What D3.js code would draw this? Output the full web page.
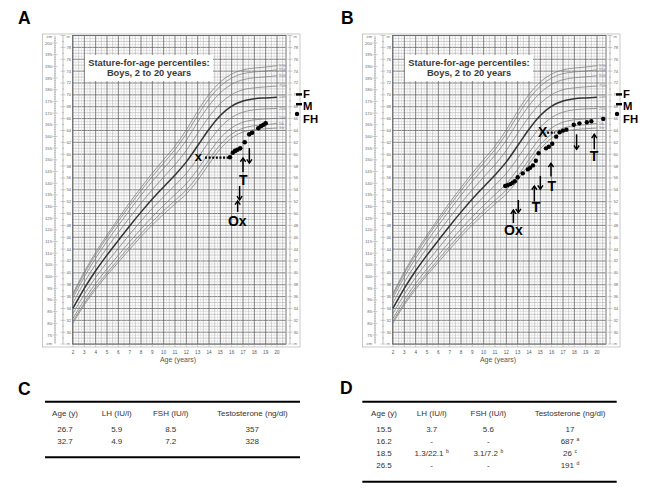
<!DOCTYPE html>
<html><head><meta charset="utf-8">
<script src="https://cdn.jsdelivr.net/npm/d3@7"></script>
<style>
body{margin:0;background:#fff;}
text{font-family:Arial,"Liberation Sans",Helvetica,sans-serif;}
</style></head>
<body><svg id="fig" width="649" height="502"></svg>
<script>
// ---------- DATA ----------
const ages = [2,3,4,5,6,7,8,9,10,11,12,13,14,15,16,17,18,19,20];
const pctNames = ["3rd","5th","10th","25th","50th","75th","90th","95th","97th"];
const p3  = [80.1,87.9,94.6,100.6,106.1,111.7,117.1,122.1,126.7,131.1,135.4,141.2,148.2,154.7,159.3,161.9,162.9,163.3,163.6];
const p5  = [80.9,88.7,95.6,101.6,107.3,113.0,118.4,123.5,128.2,132.6,137.1,143.0,150.1,156.5,161.0,163.5,164.6,165.0,165.6];
const p10 = [82.1,90.1,97.1,103.3,109.1,114.9,120.4,125.6,130.5,135.1,139.8,145.9,153.0,159.3,163.7,166.1,167.1,167.5,167.8];
const p25 = [84.2,92.4,99.7,106.1,112.1,118.1,123.8,129.2,134.2,139.1,144.2,150.7,157.8,163.9,168.1,170.4,171.4,171.8,172.0];
const p50 = [86.5,95.0,102.5,109.2,115.5,121.7,127.6,133.2,138.4,143.5,149.1,156.0,163.1,169.0,173.0,175.2,176.1,176.5,176.8];
const p75 = [88.8,97.6,105.3,112.3,118.9,125.3,131.4,137.2,142.6,147.9,154.0,161.3,168.4,174.1,177.9,180.0,180.8,181.2,181.6];
const p90 = [90.9,99.9,107.9,115.1,121.9,128.5,134.8,140.8,146.3,152.0,158.4,166.1,173.2,178.7,182.3,184.3,185.1,185.5,186.0];
const p95 = [92.1,101.3,109.4,116.8,123.7,130.4,136.8,142.9,148.6,154.4,161.1,169.0,176.1,181.5,185.0,186.9,187.6,188.0,188.5];
const p97 = [92.9,102.1,110.4,117.8,124.9,131.7,138.1,144.3,150.1,155.9,162.8,170.9,178.0,183.3,186.7,188.5,189.3,189.7,190.3];

const ageTicks = [2,3,4,5,6,7,8,9,10,11,12,13,14,15,16,17,18,19,20];
const cmTicks = [200,195,190,185,180,175,170,165,160,155,150,145,140,135,130,125,120,115,110,105,100,95,90,85,80,75];
const inTicks = [78,76,74,72,70,68,66,64,62,60,58,56,54,52,50,48,46,44,42,40,38,36,34,32,30];

// parental targets (cm)
const targetLabels = ["F","M","FH"];
const targetHeights = [178.0,173.8,169.6];

// Patient A
const ageA = [15.85,16.1,16.3,16.5,16.75,17.15,17.55,17.8,18.35,18.6,18.8,19.0];
const htA  = [151.1,153.0,153.8,154.3,154.9,157.5,160.9,161.6,163.5,164.5,165.0,165.6];
const boneA = {age:13.06, cm:149.4, label:"x", from:13.65, to:15.8, line:150.9};
const arrowAgeA = [17.56,17.0,16.7,16.53];
const arrowTopA = [155.0,150.8,138.8,132.4];
const arrowBotA = [148.6,144.8,132.8,127.7];
const arrowDirA = ["down","up","down","up"];
const noteTextA = ["T","Ox"];
const noteAgeA  = [17.02,16.5];
const noteCmA   = [139.3,121.8];

// Patient B
const ageB = [11.9,12.1,12.35,12.55,12.75,13.0,13.45,13.9,14.1,14.35,14.6,14.85,15.5,15.75,16.05,16.4,16.7,17.0,17.3,17.95,18.45,19.1,19.5,20.55];
const htB  = [138.8,139.1,139.6,140.2,140.8,142.5,144.2,145.9,146.6,147.6,149.6,152.8,154.9,155.6,156.9,159.9,161.8,162.5,162.9,165.0,165.6,166.1,166.5,167.5];
const boneB = {age:15.2, cm:159.6, label:"X", from:15.6, to:16.3, line:161.6};
const arrowAgeB = [12.62,13.06,14.47,15.0,15.94,18.2,19.76];
const arrowTopB = [128.5,132.8,138.8,143.1,148.5,160.9,160.9];
const arrowBotB = [122.9,127.4,132.1,137.4,142.8,154.5,154.5];
const arrowDirB = ["up","down","up","down","up","down","up"];
const noteTextB = ["Ox","T","T","T"];
const noteAgeB  = [12.62,14.62,16.0,19.74];
const noteCmB   = [117.8,127.8,136.8,149.6];

// Tables
const tableHeaders = ["Age (y)","LH (IU/l)","FSH (IU/l)","Testosterone (ng/dl)"];
const tableC = [["26.7","5.9","8.5","357"],["32.7","4.9","7.2","328"]];
const tableCSup = [["","","",""],["","","",""]];
const tableD = [["15.5","3.7","5.6","17"],["16.2","-","-","687"],["18.5","1.3/22.1","3.1/7.2","26"],["26.5","-","-","191"]];
const tableDSup = [["","","",""],["","","","a"],["","b","b","c"],["","","","d"]];

// ---------- DRAW ----------
const svg = d3.select("#fig");
const pcts = [p3,p5,p10,p25,p50,p75,p90,p95,p97];

function drawChart(ox, pts, bone, arr, notes, dotR){
  const g = svg.append("g").attr("transform",`translate(${ox},0)`);
  const x = d3.scaleLinear().domain([2,20]).range([73,277]);
  const y = d3.scaleLinear().domain([75,200]).range([335,43]);
  const yi = v => y(v*2.54);
  const gx0 = 72.5, gx1 = x(20.8), gy0 = yi(80), gy1 = yi(28);

  // outer frame
  g.append("rect").attr("x",42.5).attr("y",34).attr("width",300-42.5).attr("height",347-34)
    .attr("fill","#fff").attr("stroke","#bbb").attr("stroke-width",0.8);

  // grid - horizontal
  const hMinor = d3.range(28,80.01,0.5);
  g.append("g").selectAll("line").data(hMinor).join("line")
    .attr("x1",gx0).attr("x2",gx1).attr("y1",d=>yi(d)).attr("y2",d=>yi(d))
    .attr("stroke", d=> d%2===0 ? "#6f6f6f" : (d%1===0 ? "#a4a4a4":"#d2d2d2"))
    .attr("stroke-width", d=> d%2===0 ? 0.9 : 0.55);
  // grid - vertical
  const vLines = d3.range(2,20.81,0.25);
  g.append("g").selectAll("line").data(vLines).join("line")
    .attr("x1",d=>x(d)).attr("x2",d=>x(d)).attr("y1",gy0).attr("y2",gy1)
    .attr("stroke", d=> d%1===0 ? "#6f6f6f" : (d%0.5===0 ? "#a8a8a8":"#d6d6d6"))
    .attr("stroke-width", d=> d%1===0 ? 0.9 : 0.55);
  g.append("rect").attr("x",gx0).attr("y",gy0).attr("width",gx1-gx0).attr("height",gy1-gy0)
    .attr("fill","none").attr("stroke","#666").attr("stroke-width",0.8);

  // left axes
  g.append("line").attr("x1",55).attr("x2",55).attr("y1",gy0).attr("y2",gy1).attr("stroke","#999").attr("stroke-width",0.6);
  g.append("line").attr("x1",63).attr("x2",63).attr("y1",gy0).attr("y2",gy1).attr("stroke","#999").attr("stroke-width",0.6);
  g.append("g").selectAll("line").data(d3.range(72,203,1)).join("line")
    .attr("x1",d=>d%5===0?52.5:54).attr("x2",d=>d%5===0?57.5:56).attr("y1",d=>y(d)).attr("y2",d=>y(d))
    .attr("stroke","#999").attr("stroke-width",0.5);
  g.append("g").selectAll("line").data(d3.range(28,80.1,1)).join("line")
    .attr("x1",d=>d%2===0?60.5:62).attr("x2",d=>d%2===0?65.5:64).attr("y1",d=>yi(d)).attr("y2",d=>yi(d))
    .attr("stroke","#999").attr("stroke-width",0.5);
  // right inch axis
  g.append("line").attr("x1",290).attr("x2",290).attr("y1",gy0).attr("y2",gy1).attr("stroke","#999").attr("stroke-width",0.6);
  g.append("g").selectAll("line").data(d3.range(28,80.1,1)).join("line")
    .attr("x1",d=>d%2===0?287.5:289).attr("x2",d=>d%2===0?292.5:291).attr("y1",d=>yi(d)).attr("y2",d=>yi(d))
    .attr("stroke","#999").attr("stroke-width",0.5);

  const lf = "#666", ls = "4.2px";
  g.append("g").selectAll("text").data(cmTicks).join("text")
    .attr("x",52).attr("y",d=>y(d)+1.5).attr("text-anchor","end").text(d=>d)
    .attr("fill",lf).attr("font-size",ls);
  g.append("g").selectAll("text").data(inTicks).join("text")
    .attr("x",66.5).attr("y",d=>yi(d)+1.5).text(d=>d)
    .attr("fill",lf).attr("font-size",ls);
  g.append("g").selectAll("text").data(inTicks).join("text")
    .attr("x",293.5).attr("y",d=>yi(d)+1.5).text(d=>d)
    .attr("fill",lf).attr("font-size",ls);
  [["cm",52,"end"],["in",66.5,"start"]].forEach(([t,xx,a])=>{
    g.append("text").attr("x",xx).attr("y",yi(80)+2).attr("text-anchor",a).text(t).attr("fill",lf).attr("font-size",ls);
    g.append("text").attr("x",xx).attr("y",yi(28)+1).attr("text-anchor",a).text(t).attr("fill",lf).attr("font-size",ls);
  });
  g.append("text").attr("x",293.5).attr("y",yi(80)+2).text("in").attr("fill",lf).attr("font-size",ls);
  g.append("text").attr("x",293.5).attr("y",yi(28)+1).text("in").attr("fill",lf).attr("font-size",ls);

  // bottom age ticks + labels
  g.append("g").selectAll("line").data(d3.range(2,20.6,0.5)).join("line")
    .attr("x1",d=>x(d)).attr("x2",d=>x(d)).attr("y1",gy1).attr("y2",d=>d%1===0?gy1+3:gy1+1.8)
    .attr("stroke","#999").attr("stroke-width",0.5);
  g.append("g").selectAll("text").data(ageTicks).join("text")
    .attr("x",d=>x(d)).attr("y",353.5).attr("text-anchor","middle").text(d=>d)
    .attr("fill","#555").attr("font-size","4.6px");
  g.append("text").attr("x",178).attr("y",362).attr("text-anchor","middle").text("Age (years)")
    .attr("fill","#555").attr("font-size","7px");

  // title box
  g.append("rect").attr("x",85).attr("y",55).attr("width",128).attr("height",26).attr("fill","#fff");
  g.append("text").attr("x",149).attr("y",65.5).attr("text-anchor","middle").attr("font-weight","bold")
    .attr("font-size","9.3px").attr("fill","#3a3a3a").text("Stature-for-age percentiles:");
  g.append("text").attr("x",149).attr("y",76).attr("text-anchor","middle").attr("font-weight","bold")
    .attr("font-size","9.3px").attr("fill","#3a3a3a").text("Boys, 2 to 20 years");

  // percentile curves
  const line = d3.line().x(d=>x(d[0])).y(d=>y(d[1])).curve(d3.curveMonotoneX);
  pcts.forEach((arrv,i)=>{
    const pts2 = ages.map((a,j)=>[a,arrv[j]]);
    g.append("path").attr("d",line(pts2)).attr("fill","none")
      .attr("stroke", i===4 ? "#333" : "#7c7c7c").attr("stroke-width", i===4 ? 1.5 : 0.75);
    g.append("text").attr("x",x(20)+2).attr("y",y(arrv[arrv.length-1])+1.2).text(pctNames[i])
      .attr("fill","#888").attr("font-size","3.6px");
  });

  // parental targets
  const tBase = [97.5, 110.3, 123.1];
  targetLabels.forEach((t,i)=>{
    const yy = y(targetHeights[i]);
    if(t==="FH"){
      g.append("circle").attr("cx",297).attr("cy",yy).attr("r",2.2).attr("fill","#000");
    } else {
      g.append("line").attr("x1",296).attr("x2",302).attr("y1",yy).attr("y2",yy).attr("stroke","#000").attr("stroke-width",2.4);
    }
    g.append("text").attr("x",303).attr("y",tBase[i]).text(t).attr("font-weight","bold").attr("font-size","11.3px").attr("fill","#000");
  });

  // bone age marker + dotted line
  g.append("line").attr("x1",x(bone.from)).attr("x2",x(bone.to)).attr("y1",y(bone.line)).attr("y2",y(bone.line))
    .attr("stroke","#000").attr("stroke-width",2.2).attr("stroke-dasharray","2,1.6");
  g.append("text").attr("x",x(bone.age)).attr("y",y(bone.cm)).attr("text-anchor","middle")
    .attr("font-weight","bold").attr("font-size", bone.label==="x"?"13px":"14px").attr("fill","#000").text(bone.label);

  // patient points
  g.append("g").selectAll("circle").data(pts.a.map((a,i)=>[a,pts.h[i]])).join("circle")
    .attr("cx",d=>x(d[0])).attr("cy",d=>y(d[1])).attr("r",dotR).attr("fill","#000");

  // arrows
  arr.age.forEach((a,i)=>{
    const xx = x(a), yt = y(arr.top[i]), yb = y(arr.bot[i]);
    g.append("line").attr("x1",xx).attr("x2",xx).attr("y1",yt).attr("y2",yb).attr("stroke","#000").attr("stroke-width",1.5);
    const hy = arr.dir[i]==="up" ? yt : yb, s = arr.dir[i]==="up" ? 1 : -1;
    g.append("path").attr("d",`M${xx-2.6},${hy+s*3.8}L${xx},${hy}L${xx+2.6},${hy+s*3.8}`)
      .attr("fill","none").attr("stroke","#000").attr("stroke-width",1.4);
  });
  notes.t.forEach((t,i)=>{
    g.append("text").attr("x",x(notes.a[i])).attr("y",y(notes.c[i])).attr("text-anchor","middle")
      .attr("font-weight","bold").attr("font-size","14px").attr("fill","#000").text(t);
  });
}

drawChart(0,{a:ageA,h:htA},boneA,{age:arrowAgeA,top:arrowTopA,bot:arrowBotA,dir:arrowDirA},{t:noteTextA,a:noteAgeA,c:noteCmA},2.3);
drawChart(320,{a:ageB,h:htB},boneB,{age:arrowAgeB,top:arrowTopB,bot:arrowBotB,dir:arrowDirB},{t:noteTextB,a:noteAgeB,c:noteCmB},2.2);

// panel letters
[["A",18,24],["B",341,24],["C",18,395],["D",340,394]].forEach(([t,xx,yy])=>{
  svg.append("text").attr("x",xx).attr("y",yy).text(t).attr("font-weight","bold").attr("font-size","17.5px").attr("fill","#000");
});

// tables
function drawTable(ox, x1, rows, sups, bottomY, colX){
  const g = svg.append("g");
  g.append("line").attr("x1",ox).attr("x2",x1).attr("y1",401.7).attr("y2",401.7).attr("stroke","#000").attr("stroke-width",2);
  g.append("line").attr("x1",ox).attr("x2",x1).attr("y1",bottomY).attr("y2",bottomY).attr("stroke","#000").attr("stroke-width",2);
  tableHeaders.forEach((h,j)=>{
    g.append("text").attr("x",colX[j]).attr("y",415.5).attr("text-anchor","middle").text(h)
      .attr("font-size","8px").attr("fill","#333");
  });
  rows.forEach((r,i)=>{
    r.forEach((v,j)=>{
      const t = g.append("text").attr("x",colX[j]).attr("y",432.2+i*11.8).attr("text-anchor","middle")
        .attr("font-size","8px").attr("fill","#333");
      t.append("tspan").text(v);
      if(sups[i][j]) t.append("tspan").attr("dx",2.5).attr("dy",-2.8).attr("font-size","5px").text(sups[i][j]);
    });
  });
}
drawTable(45,300,tableC,tableCSup,457.3,[65,116.7,170.7,252.3]);
drawTable(362.3,616.7,tableD,tableDSup,481.7,[384,431.7,488.3,570]);
</script></body></html>
